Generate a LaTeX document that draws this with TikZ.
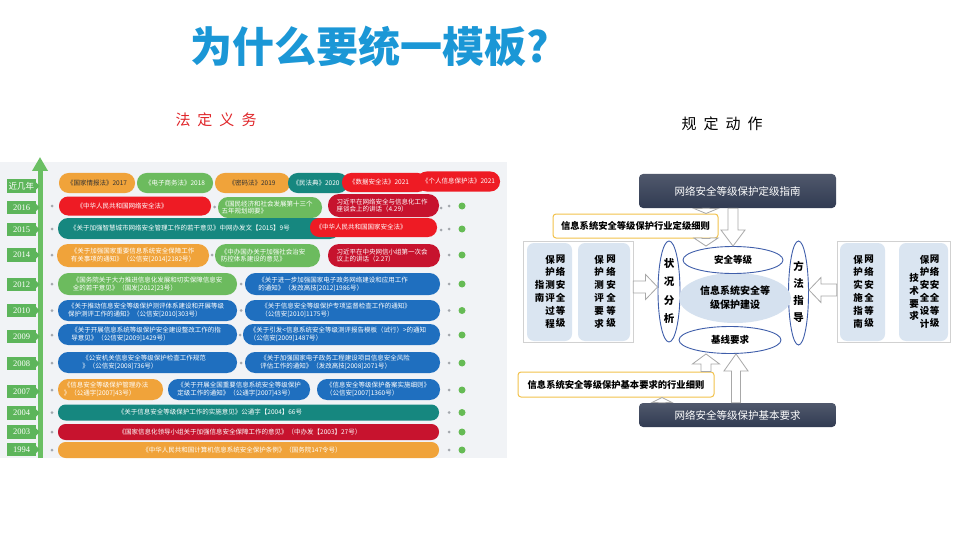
\documentclass[tikz,border=0pt]{standalone}
\usepackage{fontspec}
\setmainfont{Noto Sans CJK SC}
\newfontfamily\yrfont{Liberation Serif}
\usetikzlibrary{arrows.meta,calc,shapes.geometric}
\definecolor{cor}{HTML}{F0A33A}
\definecolor{cgr}{HTML}{6CBB5E}
\definecolor{cte}{HTML}{16877F}
\definecolor{crd}{HTML}{EE1B24}
\definecolor{cdr}{HTML}{C7132E}
\definecolor{cbl}{HTML}{1F6FBF}
\definecolor{cyr}{HTML}{5DB55B}
\definecolor{cgarrow}{HTML}{6ABF63}
\definecolor{cpanel}{HTML}{F1F3F6}
\definecolor{cdot}{HTML}{A3A7AD}
\definecolor{cgdot}{HTML}{66BB55}
\definecolor{ctitle}{HTML}{1B97D6}
\definecolor{cboxtop}{HTML}{7A87A2}
\definecolor{cboxbot}{HTML}{313B52}
\definecolor{clab}{HTML}{F2C24C}
\definecolor{cvb}{HTML}{DAE5F1}
\definecolor{cell}{HTML}{3F5EAA}
\definecolor{cbig}{HTML}{D5E1EF}
\definecolor{carr}{HTML}{A8A8A8}
\definecolor{chead}{HTML}{E0262A}

\newcommand\pill[9]{%
  \pgfmathsetmacro\pillr{#5/2-0.4}%
  \fill[#6, rounded corners=\pillr pt] (#2,#4-#5/2) rectangle (#3,#4+#5/2);
  \node[pilltext, text=#7] (#1) at (#9,#4) {#8};}
\newcommand\yr[3]{%
  \node[yearlab] (#1) at (21.5,#2) {#3};
  \fill[cyr] ($(#1.east)+(0,-3.5)$) -- ($(#1.east)+(3.5,0)$) -- ($(#1.east)+(0,3.5)$) -- cycle;}
\newcommand\rowdots[1]{%
  \fill[cdot] (52,#1) circle (1.5pt);
  \fill[cdot] (449,#1) circle (1.5pt);
  \fill[cgdot] (462,#1) circle (3.5pt);}
\newcommand\vtarrow[6]{%
  \draw[hollow] let \p1=(#1,0 |- #2), \p2=(#1,0 |- #3), \p3=($(\p2)!#6pt!(\p1)$) in
  ({\x1-#4pt},\y1) -- ({\x1-#4pt},\y3) -- ({\x1-#5pt},\y3) -- (\p2) -- ({\x1+#5pt},\y3) -- ({\x1+#4pt},\y3) -- ({\x1+#4pt},\y1) -- cycle;}
\newcommand\hzarrow[6]{%
  \draw[hollow] let \p1=(#2 |- 0,#1), \p2=(#3 |- 0,#1), \p3=($(\p2)!#6pt!(\p1)$) in
  (\x1,{\y1-#4pt}) -- (\x3,{\y1-#4pt}) -- (\x3,{\y1-#5pt}) -- (\p2) -- (\x3,{\y1+#5pt}) -- (\x3,{\y1+#4pt}) -- (\x1,{\y1+#4pt}) -- cycle;}

\begin{document}
\begin{tikzpicture}[x=1pt,y=-1pt,
  pilltext/.style={font=\fontsize{6.5}{7.8}\selectfont, align=left, inner sep=0pt},
  yearlab/.style={fill=cyr, text=white, font=\yrfont\fontsize{8.5}{9}\selectfont, minimum width=29pt, minimum height=13.5pt, inner sep=0pt},
  titlefont/.style={font=\bfseries\fontsize{42}{46}\selectfont, inner sep=0pt},
  headfont/.style={font=\fontsize{15}{17}\selectfont, inner sep=0pt},
  darkbox/.style={minimum width=197pt, rounded corners=4pt, top color=cboxbot!85, middle color=cboxtop, bottom color=cboxbot, text=white, font=\fontsize{10.5}{12}\selectfont, inner sep=0pt},
  ylabel/.style={draw=clab, line width=1pt, fill=white, rounded corners=3pt, inner sep=0pt, font=\bfseries\fontsize{9.3}{11}\selectfont},
  panelbox/.style={draw=black!18, fill=white, inner sep=0pt, minimum height=101pt},
  vbox/.style={fill=cvb, rounded corners=7pt, minimum height=98pt, inner sep=0pt},
  vcol/.style={align=center, font=\bfseries\fontsize{9.5}{12.8}\selectfont, inner sep=0pt},
  ell/.style={ellipse, draw=cell, line width=0.9pt, fill=white, inner sep=0pt, font=\bfseries\fontsize{9.5}{11}\selectfont},
  hollow/.style={fill=white, draw=carr, line width=0.8pt}]
\useasboundingbox (0,0) rectangle (960,540);
\fill[white] (0,0) rectangle (960,540);

% title
\node[titlefont, text=ctitle] (title) at (370,47) {为什么要统一模板?};

\node[headfont, text=chead] (hlaw) at (216,120) {法\hspace{7pt}定\hspace{7pt}义\hspace{7pt}务};
\node[headfont, text=black] (hact) at (722,124) {规\hspace{7pt}定\hspace{7pt}动\hspace{7pt}作};

% ===== left timeline =====
\fill[cpanel] (0,162) rectangle (507,458);
\coordinate (axbot) at (40,458);
\coordinate (axtop) at (40,157);
\draw[line width=5pt, cgarrow, -{Triangle[width=15pt,length=14pt]}] (axbot) -- (axtop);

\node[yearlab] (yrec) at (21.5,186) {\rmfamily 近几年};
\fill[cyr] ($(yrec.east)+(0,-3.5)$) -- ($(yrec.east)+(3.5,0)$) -- ($(yrec.east)+(0,3.5)$) -- cycle;
\yr{y16}{207.5}{2016}
\yr{y15}{229.5}{2015}
\yr{y14}{255}{2014}
\yr{y12}{284.5}{2012}
\yr{y10}{310.5}{2010}
\yr{y09}{336.5}{2009}
\yr{y08}{363.5}{2008}
\yr{y07}{391.5}{2007}
\yr{y04}{413}{2004}
\yr{y03}{432}{2003}
\yr{y94}{449.5}{1994}

% dots
\rowdots{206}\rowdots{229}\rowdots{255}\rowdots{284}\rowdots{310.5}\rowdots{335}
\rowdots{363}\rowdots{390}\rowdots{412.5}\rowdots{432}\rowdots{450}
\fill[cdot] (441,208) circle (1.5pt);
\fill[cdot] (441,230) circle (1.5pt);
\fill[cdot] (214.5,207) circle (1.5pt);
\fill[cdot] (212,255) circle (1.5pt);
\fill[cdot] (241,284) circle (1.5pt);
\fill[cdot] (241,310.5) circle (1.5pt);
\fill[cdot] (240,335) circle (1.5pt);
\fill[cdot] (241,363) circle (1.5pt);

% recent years
\pill{p01}{59}{135}{183}{20}{cor}{black!80}{《国家情报法》2017}{97}
\pill{p02}{137}{213}{183}{20}{cgr}{white}{《电子商务法》2018}{175}
\pill{p03}{215}{290}{183}{20}{cor}{black!80}{《密码法》2019}{252}
\pill{p04}{288}{348}{183}{20}{cte}{white}{《民法典》2020}{316}
\pill{p05}{342}{427}{182.5}{19}{crd}{white}{《数据安全法》2021}{379}
\pill{p06}{417}{500}{181.5}{20}{crd}{white}{《个人信息保护法》2021}{458.5}
% 2016
\pill{p11}{59}{211}{206}{19}{crd}{white}{《中华人民共和国网络安全法》}{122}
\pill{p12}{218}{322}{207.5}{21}{cgr}{white}{《国民经济和社会发展第十三个\\五年规划纲要》}{267}
\pill{p13}{328}{439}{205.5}{23}{cdr}{white}{习近平在网络安全与信息化工作\\座谈会上的讲话（4.29）}{382}
% 2015
\pill{p21}{58}{340}{228.5}{21}{cte}{white}{《关于加强智慧城市网络安全管理工作的若干意见》中网办发文【2015】9号}{180}
\pill{p22}{310}{437}{227.5}{19}{crd}{white}{《中华人民共和国国家安全法》}{361}
% 2014
\pill{p31}{57}{209}{255.5}{23}{cor}{white}{《关于加强国家重要信息系统安全保障工作\\有关事项的通知》（公信安[2014]2182号）}{133}
\pill{p32}{215}{320}{255.5}{23}{cgr}{white}{《中办国办关于加强社会治安\\防控体系建设的意见》}{263}
\pill{p33}{328}{440}{255.5}{23}{cdr}{white}{习近平在中央网信小组第一次会\\议上的讲话（2.27）}{382}
% 2012
\pill{p41}{58}{237}{284}{22}{cgr}{white}{《国务院关于大力推进信息化发展和切实保障信息安\\全的若干意见》（国发[2012]23号）}{147.5}
\pill{p42}{245}{440}{284}{22}{cbl}{white}{《关于进一步加强国家电子政务网络建设和应用工作\\的通知》（发改高技[2012]1986号）}{333}
% 2010
\pill{p51}{58}{237}{310.5}{21}{cbl}{white}{《关于推动信息安全等级保护测评体系建设和开展等级\\保护测评工作的通知》（公信安[2010]303号）}{146}
\pill{p52}{245}{440}{310.5}{21}{cbl}{white}{《关于信息安全等级保护专项监督检查工作的通知》\\（公信安[2010]1175号）}{336}
% 2009
\pill{p61}{58}{237}{334.5}{21}{cbl}{white}{《关于开展信息系统等级保护安全建设整改工作的指\\导意见》（公信安[2009]1429号）}{146}
\pill{p62}{243}{440}{334.5}{21}{cbl}{white}{《关于引发<信息系统安全等级测评报告模板（试行）>的通知\\（公信安[2009]1487号）}{338}
% 2008
\pill{p71}{58}{237}{362.5}{21}{cbl}{white}{《公安机关信息安全等级保护检查工作规范\\》（公信安[2008]736号）}{144}
\pill{p72}{245}{440}{362.5}{21}{cbl}{white}{《关于加强国家电子政务工程建设项目信息安全风险\\评估工作的通知》（发改高技[2008]2071号）}{335}
% 2007
\pill{p81}{58}{163}{389.5}{21}{cor}{white}{《信息安全等级保护管理办法\\》（公通字[2007]43号）}{106}
\pill{p82}{168}{310}{389.5}{21}{cbl}{white}{《关于开展全国重要信息系统安全等级保护\\定级工作的通知》（公通字[2007]43号）}{239}
\pill{p83}{317}{440}{389.5}{21}{cbl}{white}{《信息安全等级保护备案实施细则》\\（公信安[2007]1360号）}{378}
% 2004 / 2003 / 1994
\pill{p91}{58}{439}{412.5}{16}{cte}{white}{《关于信息安全等级保护工作的实施意见》公通字【2004】66号}{210}
\pill{pa1}{58}{439}{432}{16}{cdr}{white}{《国家信息化领导小组关于加强信息安全保障工作的意见》（中办发【2003】27号）}{240}
\pill{pb1}{58}{439}{450}{16}{cor}{white}{《中华人民共和国计算机信息系统安全保护条例》（国务院147令号）}{242}

% ===== right diagram =====
\node[panelbox, minimum width=110pt] (lpanel) at (578,291.5) {};
\node[vbox, minimum width=45pt] (b1) at (549.5,292) {};
\node[vbox, minimum width=52pt] (b2) at (604,292) {};
\node[vcol] (b1c1) at (560.5,291.5) {网\\络\\安\\全\\等\\级};
\node[vcol] (b1c2) at (550,291.5) {保\\护\\测\\评\\过\\程};
\node[vcol] (b1c3) at (539.5,291.5) {指\\南};
\node[vcol] (b2c1) at (611,291.5) {网\\络\\安\\全\\等\\级};
\node[vcol] (b2c2) at (599,291.5) {保\\护\\测\\评\\要\\求};

\node[panelbox, minimum width=113pt] (rpanel) at (893.5,291.5) {};
\node[vbox, minimum width=45pt] (b3) at (862.5,292) {};
\node[vbox, minimum width=49pt] (b4) at (923.5,292) {};
\node[vcol] (b3c1) at (869,291.5) {网\\络\\安\\全\\等\\级};
\node[vcol] (b3c2) at (858,291.5) {保\\护\\实\\施\\指\\南};
\node[vcol] (b4c1) at (934.5,291.5) {网\\络\\安\\全\\等\\级};
\node[vcol] (b4c2) at (924.5,291.5) {保\\护\\安\\全\\设\\计};
\node[vcol] (b4c3) at (914,297) {技\\术\\要\\求};

\node[ell, minimum width=22pt, minimum height=101pt] (zk) at (669,291.5) {};
\node[align=center, inner sep=0pt, font=\bfseries\fontsize{10.5}{18.5}\selectfont] (zkt) at (669,291) {状\\况\\分\\析};
\node[ell, minimum width=20pt, minimum height=104pt] (ff) at (798.5,293) {};
\node[align=center, inner sep=0pt, font=\bfseries\fontsize{10.5}{16.8}\selectfont] (fft) at (798.5,292) {方\\法\\指\\导};

\node[ellipse, fill=cbig, minimum width=112pt, minimum height=50pt, inner sep=0pt, align=center, font=\bfseries\fontsize{10}{14}\selectfont] (js) at (735,298) {信息系统安全等\\级保护建设};
\node[ell, minimum width=100pt, minimum height=27pt] (aqdj) at (733,260) {安全等级};
\node[ell, minimum width=102pt, minimum height=27pt] (jxyq) at (730,340) {基线要求};

\node[darkbox, minimum height=34pt] (topbox) at (737.5,191) {网络安全等级保护定级指南};
\node[darkbox, minimum height=24pt] (botbox) at (737.5,415) {网络安全等级保护基本要求};

\node[ylabel, minimum width=165pt, minimum height=24pt] (deflab) at (635.5,226) {信息系统安全等级保护行业定级细则};
\node[ylabel, minimum width=196pt, minimum height=25pt] (baslab) at (616,384.5) {信息系统安全等级保护基本要求的行业细则};

% hollow arrows
\vtarrow{706}{topbox.south}{deflab.north}{4}{12}{5}
\vtarrow{706}{deflab.south}{aqdj.north}{4}{12}{8}
\vtarrow{733}{topbox.south}{aqdj.north}{5}{12}{16}
\hzarrow{287}{lpanel.east}{zk.west}{6}{12.5}{12}
\hzarrow{290}{rpanel.west}{ff.east}{6}{12.5}{12}
\vtarrow{706}{baslab.north}{jxyq.south}{5}{13.5}{10}
\vtarrow{736}{botbox.north}{jxyq.south}{4.5}{12}{17}
\vtarrow{662}{botbox.north}{baslab.south}{4}{10}{5}
\end{tikzpicture}
\end{document}
